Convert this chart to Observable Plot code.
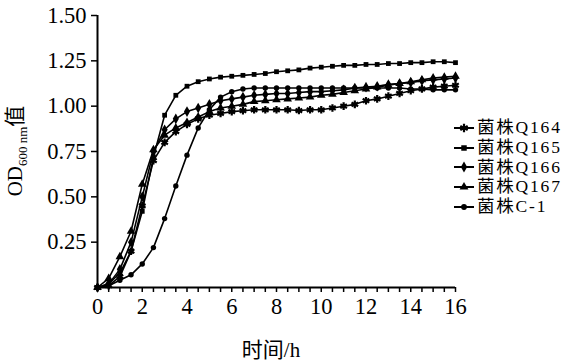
<!DOCTYPE html>
<html>
<head>
<meta charset="utf-8">
<script src="https://cdn.jsdelivr.net/npm/d3@7"></script>
<script src="https://cdn.jsdelivr.net/npm/@observablehq/plot@0.6"></script>
<style>
  html, body { margin: 0; padding: 0; background: #fff; }
  #wrap { position: relative; width: 577px; height: 362px; font-family: "Liberation Serif", "Noto Sans CJK SC", serif; color: #000; }
  #wrap svg { position: absolute; left: 0; top: 0; }
  .lab { position: absolute; white-space: nowrap; font-size: 21px; line-height: 1; }
  #legend { position: absolute; left: 453px; top: 118px; font-size: 17.5px; }
  #legend .row { display: flex; align-items: center; height: 19.7px; }
  #legend .row span { line-height: 17px; letter-spacing: 1.8px; }
  #legend svg { position: static; }
</style>
</head>
<body>
<div id="wrap"></div>
<script>
// ---- data ----
const hours = [0,0.5,1,1.5,2,2.5,3,3.5,4,4.5,5,5.5,6,6.5,7,7.5,8,8.5,9,9.5,10,10.5,11,11.5,12,12.5,13,13.5,14,14.5,15,15.5,16];
const seriesNames = ["菌株Q164", "菌株Q165", "菌株Q166", "菌株Q167", "菌株C-1"];
const q164 = [0,0.01,0.06,0.2,0.45,0.7,0.8,0.86,0.9,0.93,0.95,0.96,0.97,0.975,0.98,0.98,0.98,0.98,0.976,0.98,0.98,0.99,1.0,1.01,1.03,1.04,1.055,1.07,1.085,1.095,1.105,1.11,1.115];
const q165 = [0,0.02,0.08,0.2,0.42,0.72,0.95,1.06,1.11,1.135,1.15,1.16,1.165,1.17,1.175,1.18,1.19,1.195,1.2,1.21,1.215,1.22,1.225,1.225,1.23,1.23,1.235,1.235,1.24,1.24,1.245,1.245,1.24];
const q166 = [0,0.02,0.1,0.25,0.5,0.75,0.87,0.93,0.97,0.99,1.01,1.03,1.04,1.05,1.06,1.065,1.07,1.07,1.075,1.08,1.08,1.085,1.09,1.1,1.105,1.11,1.12,1.125,1.13,1.14,1.145,1.15,1.155];
const q167 = [0,0.05,0.17,0.31,0.57,0.76,0.84,0.88,0.91,0.94,0.97,0.99,1.0,1.01,1.025,1.03,1.035,1.04,1.045,1.05,1.06,1.065,1.075,1.085,1.095,1.105,1.115,1.125,1.135,1.145,1.155,1.16,1.165];
const c1   = [0,0.01,0.04,0.07,0.13,0.22,0.38,0.56,0.73,0.88,0.98,1.05,1.08,1.095,1.1,1.1,1.1,1.1,1.1,1.1,1.1,1.1,1.1,1.1,1.1,1.1,1.1,1.1,1.095,1.095,1.09,1.09,1.09];
const xTicks = [0,0.5,1,1.5,2,2.5,3,3.5,4,4.5,5,5.5,6,6.5,7,7.5,8,8.5,9,9.5,10,10.5,11,11.5,12,12.5,13,13.5,14,14.5,15,15.5,16];
const xLabelTicks = [0,2,4,6,8,10,12,14,16];
const yTicks = [0.25,0.5,0.75,1.0,1.25,1.5];
const xTitle = "时间/h";

// ---- build ----
const valuesList = [q164, q165, q166, q167, c1];
const symbolList = ["asterisk", "square", "diamond", "triangle", "circle"];
const rows = [];
seriesNames.forEach((s, i) => hours.forEach((h, j) => rows.push({series: s, t: h, v: valuesList[i][j]})));

const marks = [
  Plot.ruleX([0], {y1: 0, y2: 1.5, strokeWidth: 2}),
  Plot.ruleY([0], {x1: 0, x2: 16, strokeWidth: 2}),
  Plot.axisY({ticks: yTicks, tickFormat: d => d.toFixed(2), tickSize: 6, tickPadding: 5, strokeWidth: 1.5}),
  Plot.axisX({ticks: xTicks, tickFormat: d => (xLabelTicks.includes(d) ? String(d) : ""), tickSize: 5, tickPadding: 6, strokeWidth: 1.5}),
  Plot.line(rows, {x: "t", y: "v", z: "series", stroke: "black", strokeWidth: 1.6})
];
seriesNames.forEach((s, i) => {
  const data = rows.filter(d => d.series === s);
  const sym = symbolList[i];
  if (sym === "asterisk") {
    marks.push(Plot.dot(data, {x: "t", y: "v", symbol: sym, r: 3.6, stroke: "black", strokeWidth: 2.2}));
  } else {
    const r = sym === "square" ? 2.7 : sym === "circle" ? 2.7 : 3.2;
    marks.push(Plot.dot(data, {x: "t", y: "v", symbol: sym, r, fill: "black", stroke: "none"}));
  }
});

const chart = Plot.plot({
  width: 577,
  height: 362,
  marginLeft: 97,
  marginRight: 122,
  marginTop: 15,
  marginBottom: 75,
  style: {fontSize: "22.5px", fontFamily: "'Liberation Serif', 'Noto Sans CJK SC', serif", background: "white", color: "black"},
  x: {domain: [0, 16], label: null},
  y: {domain: [0, 1.5], label: null},
  marks
});
const wrap = document.getElementById("wrap");
wrap.appendChild(chart);

// axis titles
const xt = document.createElement("div");
xt.className = "lab";
xt.textContent = xTitle;
xt.style.left = "271px"; xt.style.top = "350px"; xt.style.transform = "translate(-50%,-50%)";
wrap.appendChild(xt);

const yt = document.createElement("div");
yt.className = "lab";
yt.innerHTML = 'OD<span style="font-size:13px; vertical-align:-5px">600 nm</span>值';
yt.style.left = "17px"; yt.style.top = "151px"; yt.style.transform = "translate(-50%,-50%) rotate(-90deg)";
wrap.appendChild(yt);

// legend
const legend = document.createElement("div");
legend.id = "legend";
const d3sym = {asterisk: d3.symbolAsterisk, square: d3.symbolSquare, diamond: d3.symbolDiamond, triangle: d3.symbolTriangle, circle: d3.symbolCircle};
const area = {asterisk: 50, square: 30, diamond: 34, triangle: 34, circle: 26};
seriesNames.forEach((s, i) => {
  const row = document.createElement("div");
  row.className = "row";
  const sv = d3.create("svg").attr("width", 24).attr("height", 14);
  sv.append("line").attr("x1", 1).attr("x2", 21).attr("y1", 7).attr("y2", 7).attr("stroke", "black").attr("stroke-width", 2);
  const sym = symbolList[i];
  const p = sv.append("path").attr("transform", "translate(11,7)").attr("d", d3.symbol(d3sym[sym], area[sym])());
  if (sym === "asterisk") p.attr("fill", "none").attr("stroke", "black").attr("stroke-width", 2.2);
  else p.attr("fill", "black");
  row.appendChild(sv.node());
  const tx = document.createElement("span");
  tx.textContent = s;
  row.appendChild(tx);
  legend.appendChild(row);
});
wrap.appendChild(legend);
</script>
</body>
</html>
